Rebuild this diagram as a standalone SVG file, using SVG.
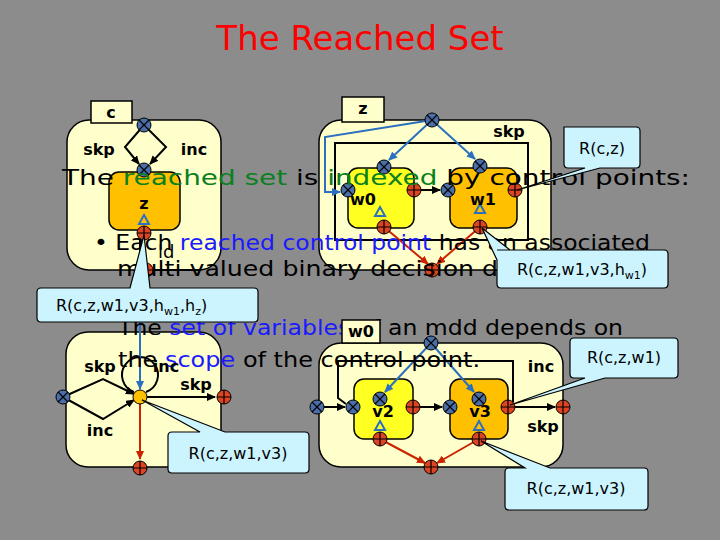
<svg xmlns="http://www.w3.org/2000/svg" width="720" height="540" viewBox="0 0 720 540">
<defs>
<style>
.bg{fill:#8c8c8c}
.box{fill:#ffffcc;stroke:#000;stroke-width:1.5}
.tab{fill:#ffffcc;stroke:#000;stroke-width:1.5}
.ybox{fill:#ffff22;stroke:#000;stroke-width:1.5}
.obox{fill:#ffc000;stroke:#000;stroke-width:1.5}
.call{fill:#ccf4ff;stroke:#000;stroke-width:1.2}
.t{font-family:"DejaVu Sans","Liberation Sans",sans-serif;fill:#000}
.lbl{font-family:"DejaVu Sans",sans-serif;font-size:16px;font-weight:bold;fill:#000}
.body{font-family:"DejaVu Sans",sans-serif;font-size:22px;fill:#000;font-weight:500}
.g{fill:#0a8020}.b{fill:#1a1aff}
.blk{stroke:#000;stroke-width:2;fill:none}
.blu{stroke:#2a6fc0;stroke-width:2;fill:none}
.red{stroke:#cc2200;stroke-width:2;fill:none}
</style>
<g id="bn"><circle r="7" fill="#4a6fa8" stroke="#000" stroke-width="1"/><path d="M-5-5L5 5M-5 5L5-5" stroke="#000" stroke-width="1.2"/></g>
<g id="rn"><circle r="7" fill="#dd4422" stroke="#000" stroke-width="1"/><path d="M-7 0H7M0-7V7" stroke="#000" stroke-width="1.2"/></g>
<g id="tri"><path d="M0-6L5 3H-5Z" fill="none" stroke="#2a6fc0" stroke-width="2"/></g>
<marker id="ak" markerUnits="userSpaceOnUse" markerWidth="9" markerHeight="8" refX="8" refY="4" orient="auto"><path d="M0 0L9 4L0 8Z" fill="#000"/></marker>
<marker id="ab" markerUnits="userSpaceOnUse" markerWidth="9" markerHeight="8" refX="8" refY="4" orient="auto"><path d="M0 0L9 4L0 8Z" fill="#2a6fc0"/></marker>
<marker id="ar" markerUnits="userSpaceOnUse" markerWidth="9" markerHeight="8" refX="8" refY="4" orient="auto"><path d="M0 0L9 4L0 8Z" fill="#cc2200"/></marker>
</defs>
<rect class="bg" width="720" height="540"/>
<text x="360" y="50" text-anchor="middle" font-family="DejaVu Sans,sans-serif" font-size="34" fill="#ff0000">The Reached Set</text>

<g id="nodeC">
<rect class="box" x="67" y="120" width="154" height="150" rx="22"/>
<rect class="tab" x="91" y="101" width="41" height="22"/>
<text class="lbl" x="111" y="118" text-anchor="middle">c</text>
<rect class="obox" x="109" y="172" width="71" height="58" rx="10"/>
<text class="lbl" x="144" y="209" text-anchor="middle">z</text>
<use href="#tri" x="144" y="221"/>
<text class="lbl" x="99" y="155" text-anchor="middle">skp</text>
<text class="lbl" x="194" y="155" text-anchor="middle">inc</text>
<path class="blk" d="M140 240V270H200"/>
<text class="t" x="158" y="258" font-size="18">ld</text>
</g>
<g id="nodeZ">
<rect class="box" x="319" y="120" width="232" height="150" rx="22"/>
<rect class="tab" x="342" y="97" width="42" height="25"/>
<text class="lbl" x="363" y="114" text-anchor="middle">z</text>
<rect x="335" y="143" width="193" height="97" fill="none" stroke="#000" stroke-width="2"/>
<rect class="ybox" x="348" y="168" width="66" height="60" rx="10"/>
<rect class="obox" x="450" y="168" width="67" height="60" rx="10"/>
<text class="lbl" x="509" y="137" text-anchor="middle">skp</text>
</g>

<g id="nodeBL">
<rect class="box" x="66" y="332" width="155" height="135" rx="22"/>
<text class="lbl" x="100" y="372" text-anchor="middle">skp</text>
<text class="lbl" x="100" y="436" text-anchor="middle">inc</text>
<text class="lbl" x="196" y="390" text-anchor="middle">skp</text>
</g>
<g id="nodeBM">
<rect class="box" x="319" y="343" width="244" height="124" rx="22"/>
<rect class="ybox" x="354" y="379" width="59" height="60" rx="10"/>
<rect class="obox" x="450" y="379" width="58" height="60" rx="10"/>
<text class="lbl" x="541" y="372" text-anchor="middle">inc</text>
<text class="lbl" x="543" y="432" text-anchor="middle">skp</text>
</g>

<g id="connectors">
<path class="blk" d="M144 125L125 147L139 164" marker-end="url(#ak)"/>
<path class="blk" d="M144 125L166 147L150 164" marker-end="url(#ak)"/>
<path class="blu" d="M432 120L389 160" marker-end="url(#ab)"/>
<path class="blu" d="M432 120L475 159" marker-end="url(#ab)"/>
<path class="blu" d="M432 120L325 137V192H340" marker-end="url(#ab)"/>
<path class="blk" d="M421 190H440" marker-end="url(#ak)"/>
<path class="red" d="M384 227L428 264" marker-end="url(#ar)"/>
<path class="red" d="M480 227L437 264" marker-end="url(#ar)"/>
<path class="blk" d="M63 397L103 379L134 394" marker-end="url(#ak)"/>
<path class="blk" d="M63 397L103 419L134 400" marker-end="url(#ak)"/>
<path class="blk" d="M134 392A18 18 0 1 1 146 392"/>
<path class="blk" d="M147 397H215" marker-end="url(#ak)"/>
<path class="red" d="M140 404V459" marker-end="url(#ar)"/>
<path class="blu" d="M140 322V389" marker-end="url(#ab)"/>
<path class="blu" d="M431 343L385 392" marker-end="url(#ab)"/>
<path class="blu" d="M431 343L474 392" marker-end="url(#ab)"/>
<path class="blk" d="M324 407H345" marker-end="url(#ak)"/>
<path class="blk" d="M420 407H442" marker-end="url(#ak)"/>
<path class="blk" d="M515 407H555" marker-end="url(#ak)"/>
<path class="blk" d="M513 402V361H338V398L346 404"/>
<path class="red" d="M380 439L425 463" marker-end="url(#ar)"/>
<path class="red" d="M479 439L437 463" marker-end="url(#ar)"/>
</g>

<g id="ports">
<use href="#bn" x="144" y="125"/><use href="#bn" x="144" y="170"/><use href="#rn" x="144" y="233"/><use href="#rn" x="146" y="270"/>
<use href="#bn" x="432" y="120"/><use href="#bn" x="384" y="167"/><use href="#bn" x="480" y="166"/>
<use href="#bn" x="348" y="190"/><use href="#rn" x="414" y="190"/><use href="#bn" x="448" y="190"/><use href="#rn" x="515" y="190"/>
<use href="#rn" x="384" y="227"/><use href="#rn" x="480" y="227"/><use href="#rn" x="432" y="270"/>
<use href="#tri" x="380" y="213"/><use href="#tri" x="480" y="210"/>
<use href="#bn" x="63" y="397"/><circle cx="140" cy="397" r="7" fill="#ffc000" stroke="#000"/><use href="#rn" x="224" y="397"/><use href="#rn" x="140" y="468"/>
<use href="#bn" x="431" y="343"/><use href="#bn" x="380" y="399"/><use href="#bn" x="479" y="399"/>
<use href="#bn" x="317" y="407"/><use href="#bn" x="353" y="407"/><use href="#rn" x="413" y="407"/><use href="#bn" x="450" y="407"/><use href="#rn" x="508" y="407"/><use href="#rn" x="563" y="407"/>
<use href="#rn" x="380" y="439"/><use href="#rn" x="479" y="439"/><use href="#rn" x="431" y="467"/>
<use href="#tri" x="380" y="427"/><use href="#tri" x="479" y="427"/>
</g>

<g id="bodytext">
<text class="body" x="62" y="185" textLength="628" lengthAdjust="spacingAndGlyphs">The <tspan class="g">reached set</tspan> is <tspan class="g">indexed</tspan> by control points:</text>
<text class="body" x="94" y="250" textLength="556" lengthAdjust="spacingAndGlyphs">• Each <tspan class="b">reached control point</tspan> has an associated</text>
<text class="body" x="117" y="276" textLength="470" lengthAdjust="spacingAndGlyphs">multi valued binary decision diagram</text>
<text class="body" x="118" y="335" textLength="505" lengthAdjust="spacingAndGlyphs">The <tspan class="b">set of variables</tspan> of an mdd depends on</text>
<text class="body" x="118" y="367" textLength="362" lengthAdjust="spacingAndGlyphs">the <tspan class="b">scope</tspan> of the control point.</text>
</g>
<text class="lbl" x="363" y="205" text-anchor="middle" font-size="18">w0</text>
<text class="lbl" x="483" y="205" text-anchor="middle" font-size="18">w1</text>
<text class="lbl" x="383" y="417" text-anchor="middle" font-size="20">v2</text>
<text class="lbl" x="480" y="417" text-anchor="middle" font-size="20">v3</text>
<text class="lbl" x="166" y="372" text-anchor="middle">inc</text>
<g id="tabW0"><rect class="tab" x="342" y="320" width="38" height="23"/><text class="lbl" x="361" y="337" text-anchor="middle">w0</text></g>

<g id="callouts">
<path class="call" d="M564 127H636Q640 127 640 131V164Q640 168 636 168H600L517 190L585 168H568Q564 168 564 164Z"/>
<text class="t" x="602" y="154" font-size="16" text-anchor="middle">R(c,z)</text>
<path class="call" d="M497 250H664Q668 250 668 254V284Q668 288 664 288H501Q497 288 497 284V260L482 228L510 250Z"/>
<text class="t" x="582" y="275" font-size="16" text-anchor="middle">R(c,z,w1,v3,h<tspan font-size="11" dy="4">w1</tspan><tspan dy="-4">)</tspan></text>
<path class="call" d="M41 288H130L144 235L150 288H254Q258 288 258 292V318Q258 322 254 322H41Q37 322 37 318V292Q37 288 41 288Z"/>
<text class="t" x="56" y="311" font-size="16">R(c,z,w1,v3,h<tspan font-size="11" dy="4">w1</tspan><tspan dy="-4">,h</tspan><tspan font-size="11" dy="4">z</tspan><tspan dy="-4">)</tspan></text>
<path class="call" d="M172 432H200L142 400L225 432H305Q309 432 309 436V469Q309 473 305 473H172Q168 473 168 469V436Q168 432 172 432Z"/>
<text class="t" x="238" y="459" font-size="16" text-anchor="middle">R(c,z,w1,v3)</text>
<path class="call" d="M574 338H674Q678 338 678 342V374Q678 378 674 378H605L510 405L585 378H574Q570 378 570 374V342Q570 338 574 338Z"/>
<text class="t" x="624" y="363" font-size="16" text-anchor="middle">R(c,z,w1)</text>
<path class="call" d="M509 468H525L481 441L550 468H644Q648 468 648 472V506Q648 510 644 510H509Q505 510 505 506V472Q505 468 509 468Z"/>
<text class="t" x="576" y="494" font-size="16" text-anchor="middle">R(c,z,w1,v3)</text>
</g>
</svg>
